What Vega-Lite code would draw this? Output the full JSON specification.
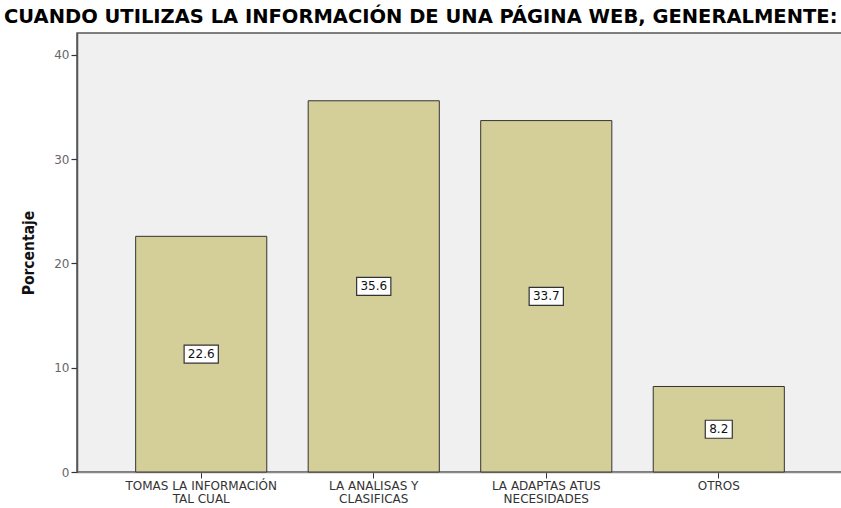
{
  "$schema": "https://vega.github.io/schema/vega-lite/v6.json",
  "autosize": "none",
  "width": 766,
  "height": 439,
  "padding": {"left": 77, "top": 33, "right": 0, "bottom": 36},
  "background": "#ffffff",
  "title": {
    "text": "CUANDO UTILIZAS LA INFORMACIÓN DE UNA PÁGINA WEB, GENERALMENTE:",
    "font": "DejaVu Sans",
    "fontSize": 19.5,
    "fontWeight": "bold",
    "color": "#000000",
    "anchor": "start",
    "frame": "group",
    "dx": -73,
    "offset": 6
  },
  "config": {
    "view": {"fill": "#f0f0f0", "stroke": "#555555", "strokeWidth": 1.5},
    "axis": {"grid": false}
  },
  "data": {
    "values": [
      {"respuesta": "TOMAS LA INFORMACIÓN TAL CUAL", "pct": 22.6, "etiqueta": "22.6"},
      {"respuesta": "LA ANALISAS Y CLASIFICAS", "pct": 35.6, "etiqueta": "35.6"},
      {"respuesta": "LA ADAPTAS ATUS NECESIDADES", "pct": 33.7, "etiqueta": "33.7"},
      {"respuesta": "OTROS", "pct": 8.2, "etiqueta": "8.2"}
    ]
  },
  "transform": [{"calculate": "datum.pct / 2", "as": "mitad"}],
  "encoding": {
    "x": {
      "field": "respuesta",
      "type": "nominal",
      "sort": null,
      "scale": {"paddingInner": 0.24, "paddingOuter": 0.34},
      "axis": {
        "title": null,
        "labelAngle": 0,
        "labelFont": "DejaVu Sans",
        "labelFontSize": 12,
        "labelColor": "#333333",
        "labelLineHeight": 13,
        "labelPadding": 2,
        "labelExpr": "datum.label == 'TOMAS LA INFORMACIÓN TAL CUAL' ? ['TOMAS LA INFORMACIÓN', 'TAL CUAL'] : datum.label == 'LA ANALISAS Y CLASIFICAS' ? ['LA ANALISAS Y', 'CLASIFICAS'] : datum.label == 'LA ADAPTAS ATUS NECESIDADES' ? ['LA ADAPTAS ATUS', 'NECESIDADES'] : datum.label",
        "domainColor": "#888888",
        "domainWidth": 1.5,
        "tickColor": "#333333",
        "tickSize": 6,
        "tickWidth": 1
      }
    }
  },
  "layer": [
    {
      "mark": {"type": "bar", "fill": "#d4cf98", "stroke": "#333333", "strokeWidth": 1},
      "encoding": {
        "y": {
          "field": "pct",
          "type": "quantitative",
          "scale": {"domain": [0, 42.1], "nice": false},
          "axis": {
            "title": "Porcentaje",
            "titleFont": "DejaVu Sans Condensed",
            "titleFontSize": 15.5,
            "titleFontWeight": "bold",
            "titleColor": "#111111",
            "titlePadding": 17,
            "values": [0, 10, 20, 30, 40],
            "labelFont": "DejaVu Sans",
            "labelFontSize": 12,
            "labelColor": "#666666",
            "labelPadding": 2,
            "domainColor": "#555555",
            "domainWidth": 1.5,
            "tickColor": "#333333",
            "tickSize": 6,
            "tickWidth": 1.2
          }
        }
      }
    },
    {
      "mark": {"type": "point", "filled": true, "fill": "#ffffff", "stroke": "#333333", "strokeWidth": 1.2, "opacity": 1, "size": 324},
      "encoding": {
        "y": {"field": "mitad", "type": "quantitative"},
        "shape": {
          "condition": {"test": "datum.pct < 10", "value": "M-1.5,-1H1.5V1H-1.5Z"},
          "value": "M-1.9,-1H1.9V1H-1.9Z"
        }
      }
    },
    {
      "mark": {"type": "text", "font": "DejaVu Sans", "fontSize": 12, "color": "#111111", "baseline": "middle"},
      "encoding": {
        "y": {"field": "mitad", "type": "quantitative"},
        "text": {"field": "etiqueta"}
      }
    }
  ]
}
